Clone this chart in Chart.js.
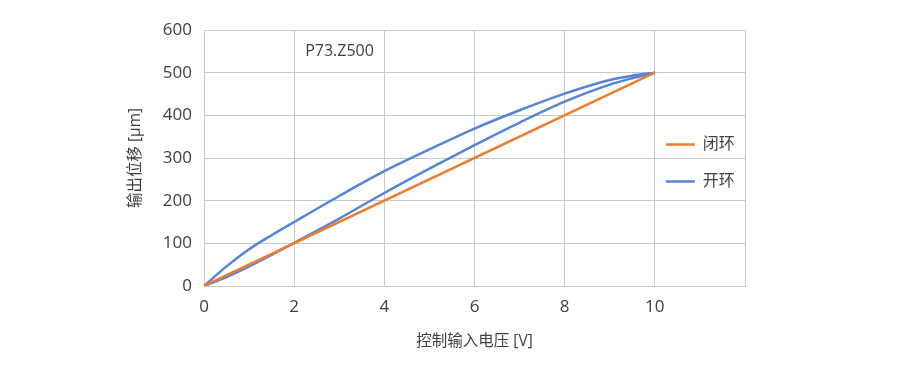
<!DOCTYPE html>
<html>
<head>
<meta charset="utf-8">
<script src="https://cdn.jsdelivr.net/npm/chart.js@4/dist/chart.umd.min.js"></script>
<style>
  html, body { margin: 0; padding: 0; background: #fff; }
  #wrap { width: 900px; height: 383px; position: relative; }
</style>
</head>
<body>
<div id="wrap"><canvas id="c" width="900" height="383"></canvas></div>
<script>
// ---- data ----
const seriesNames = ['闭环', '开环'];
const closedVolts = [0, 10];
const closedDisp = [0, 500];
const openUpVolts = [0, 0.5, 1, 1.5, 2, 3, 4, 5, 6, 7, 8, 9, 9.5, 10];
const openUpDisp  = [0, 21, 46, 73, 101, 158, 218, 275, 330, 383, 432, 472, 487, 500];
const openDownVolts = [0, 0.5, 1, 1.5, 2, 3, 4, 5, 6, 7, 8, 9, 9.5, 10];
const openDownDisp  = [0, 46, 86, 119, 150, 211, 269, 320, 369, 412, 451, 483, 493, 500];
const xTickLabels = ['0', '2', '4', '6', '8', '10'];
const yTickLabels = ['0', '100', '200', '300', '400', '500', '600'];
const annotationText = 'P73.Z500';
const xTitle = '控制输入电压 [V]';
const yTitle = '输出位移 [µm]';

const ORANGE = '#ED7D31';
const BLUE = '#5585D8';
const GRID = '#C9C9C9';
const TEXT = '#404040';
const FONT = "'Open Sans', 'Noto Sans CJK SC', sans-serif";

const toPts = (xs, ys) => xs.map((x, i) => ({ x: x, y: ys[i] }));

const overlayPlugin = {
  id: 'overlay',
  afterDraw(chart) {
    const ctx = chart.ctx;
    const xs = chart.scales.x, ys = chart.scales.y;
    ctx.save();
    // annotation
    ctx.fillStyle = TEXT;
    ctx.font = "16px " + FONT;
    ctx.textAlign = 'left';
    ctx.textBaseline = 'middle';
    ctx.fillText(annotationText, xs.getPixelForValue(2) + 11, ys.getPixelForValue(550));
    // legend
    const colors = [ORANGE, BLUE];
    const lx = xs.getPixelForValue(10) + 11;
    const rowY = [144.5, 181.5];
    ctx.font = "16px " + FONT;
    seriesNames.forEach((name, i) => {
      ctx.strokeStyle = colors[i];
      ctx.lineWidth = 2.5;
      ctx.beginPath();
      ctx.moveTo(lx, rowY[i]);
      ctx.lineTo(lx + 29, rowY[i]);
      ctx.stroke();
      ctx.fillStyle = TEXT;
      ctx.fillText(name, lx + 37, rowY[i]);
    });
    ctx.restore();
  }
};

new Chart(document.getElementById('c'), {
  type: 'scatter',
  data: {
    datasets: [
      { label: seriesNames[0], data: toPts(closedVolts, closedDisp), showLine: true,
        borderColor: ORANGE, backgroundColor: ORANGE, borderWidth: 2.5, pointRadius: 0, order: 0 },
      { label: seriesNames[1], data: toPts(openUpVolts, openUpDisp), showLine: true,
        borderColor: BLUE, backgroundColor: BLUE, borderWidth: 2.5, pointRadius: 0,
        cubicInterpolationMode: 'monotone', order: 1 },
      { label: seriesNames[1] + '_r', data: toPts(openDownVolts, openDownDisp), showLine: true,
        borderColor: BLUE, backgroundColor: BLUE, borderWidth: 2.5, pointRadius: 0,
        cubicInterpolationMode: 'monotone', order: 1 }
    ]
  },
  options: {
    responsive: false,
    animation: false,
    layout: { padding: { left: 0, right: 155, top: 30, bottom: 0 } },
    plugins: { legend: { display: false }, tooltip: { enabled: false } },
    scales: {
      x: {
        type: 'linear', min: 0, max: 12,
        afterFit(s) { s.height = 97; },
        afterBuildTicks(s) { s.ticks = [0, 2, 4, 6, 8, 10, 12].map(v => ({ value: v })); },
        grid: { color: GRID, lineWidth: 1, drawTicks: false },
        border: { color: GRID, width: 1 },
        ticks: {
          padding: 11, color: TEXT, font: { family: FONT, size: 17 },
          maxRotation: 0,
          callback: (v) => { const i = [0,2,4,6,8,10].indexOf(v); return i >= 0 ? xTickLabels[i] : ''; }
        },
        title: { display: true, text: xTitle, color: TEXT, font: { family: FONT, size: 15.5 },
                 padding: { top: 0, bottom: 32 } }
      },
      y: {
        type: 'linear', min: 0, max: 600,
        afterFit(s) { s.width = 204; },
        afterBuildTicks(s) { s.ticks = [0, 100, 200, 300, 400, 500, 600].map(v => ({ value: v })); },
        grid: { color: GRID, lineWidth: 1, drawTicks: false },
        border: { color: GRID, width: 1 },
        ticks: {
          padding: 12, color: TEXT, font: { family: FONT, size: 17 },
          callback: (v) => { const i = [0,100,200,300,400,500,600].indexOf(v); return i >= 0 ? yTickLabels[i] : ''; }
        },
        title: { display: true, text: yTitle, color: TEXT, font: { family: FONT, size: 15.5 },
                 padding: { top: 126, bottom: 0 } }
      }
    }
  },
  plugins: [overlayPlugin]
});
</script>
</body>
</html>
